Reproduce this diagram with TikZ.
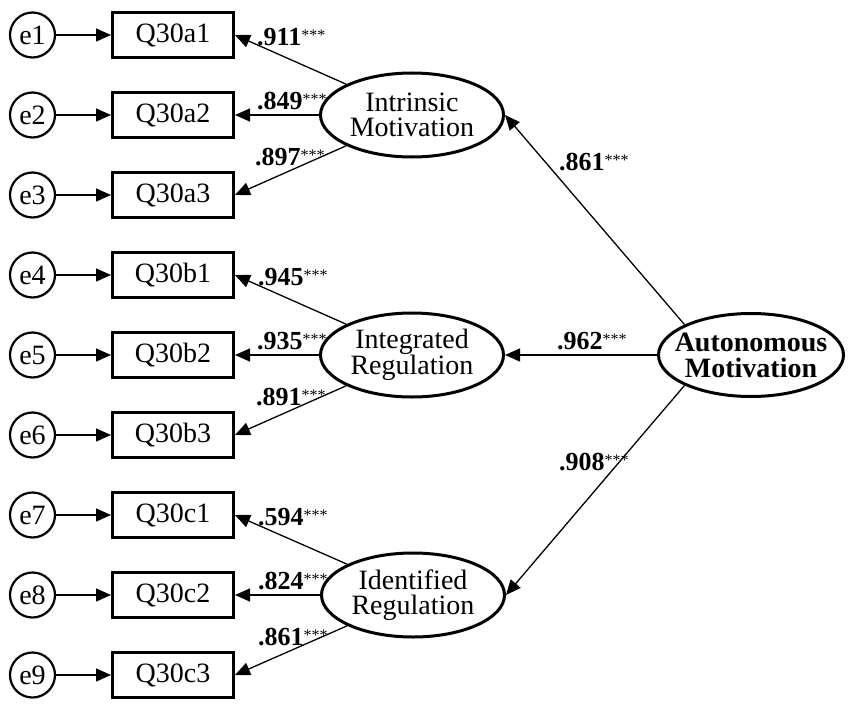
\documentclass[tikz,border=0pt]{standalone}
\usepackage{fontspec}
\setmainfont{Liberation Serif}
\usetikzlibrary{arrows.meta,shapes.geometric}
\newcommand{\sigstar}{\raisebox{5pt}{\fontsize{16}{16}\selectfont\mdseries ***}}
\begin{document}
\begin{tikzpicture}[x=1pt,y=-1pt,
  err/.style={circle,draw,line width=2.2pt,minimum size=45pt,inner sep=0pt,font=\fontsize{28}{28}\selectfont},
  obs/.style={rectangle,draw,line width=3pt,minimum width=121pt,minimum height=45pt,inner sep=0pt,font=\fontsize{28}{28}\selectfont},
  lat/.style={ellipse,draw,line width=3pt,minimum width=183pt,minimum height=84pt,inner sep=0pt,align=center,font=\fontsize{28}{25}\selectfont},
  arr/.style={-{Triangle[length=15pt,width=13pt]},line width=1.3pt},
  lab/.style={anchor=west,inner sep=0pt,font=\fontsize{26}{26}\selectfont\bfseries}]
\useasboundingbox (0,0) rectangle (851,709);
\foreach \i/\q in {1/Q30a1,2/Q30a2,3/Q30a3,4/Q30b1,5/Q30b2,6/Q30b3,7/Q30c1,8/Q30c2,9/Q30c3}{
  \node[err] (e\i) at (32.5,{35+80*(\i-1)}) {e\i};
  \node[obs] (q\i) at (173,{35+80*(\i-1)}) {\q};
  \draw[arr] (e\i) -- (q\i);
}
\node[lat] (IM) at (412,115) {Intrinsic\\Motivation};
\node[lat] (IntR) at (412,355) {Integrated\\Regulation};
\node[lat] (IdR) at (413,595) {Identified\\Regulation};
\node[lat,minimum width=185pt,minimum height=83pt,inner xsep=-20pt,font=\fontsize{28}{26}\selectfont\bfseries] (AM) at (751,355) {Autonomous\\Motivation};

\draw[arr] (IM.north west) -- (q1.east);
\draw[arr] (IM.west) -- (q2.east);
\draw[arr] (IM.south west) -- (q3.east);
\draw[arr] (IntR.north west) -- (q4.east);
\draw[arr] (IntR.west) -- (q5.east);
\draw[arr] (IntR.south west) -- (q6.east);
\draw[arr] (IdR.north west) -- (q7.east);
\draw[arr] (IdR.west) -- (q8.east);
\draw[arr] (IdR.south west) -- (q9.east);
\draw[arr] (AM.north west) -- (IM.east);
\draw[arr] (AM.west) -- (IntR.east);
\draw[arr] (AM.south west) -- (IdR.east);

\node[lab] (l1) at (257,37) {.911\sigstar};
\node[lab] (l2) at (257,101) {.849\sigstar};
\node[lab] (l3) at (255,157) {.897\sigstar};
\node[lab] (l4) at (258,277) {.945\sigstar};
\node[lab] (l5) at (257,341) {.935\sigstar};
\node[lab] (l6) at (256,397) {.891\sigstar};
\node[lab] (l7) at (258,517) {.594\sigstar};
\node[lab] (l8) at (258,581) {.824\sigstar};
\node[lab] (l9) at (258,637) {.861\sigstar};
\node[lab] (l10) at (559,162) {.861\sigstar};
\node[lab] (l11) at (557,341) {.962\sigstar};
\node[lab] (l12) at (559,462) {.908\sigstar};
\end{tikzpicture}
\end{document}
